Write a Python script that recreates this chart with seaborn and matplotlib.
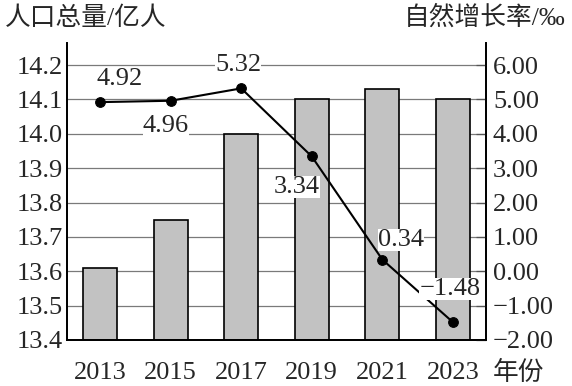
import numpy as np
import pandas as pd
import matplotlib.pyplot as plt
import seaborn as sns

years = ["2013", "2015", "2017", "2019", "2021", "2023"]
population = [13.61, 13.75, 14.00, 14.10, 14.13, 14.10]
growth_rate = [4.92, 4.96, 5.32, 3.34, 0.34, -1.48]
rate_labels = ["4.92", "4.96", "5.32", "3.34", "0.34", "\u22121.48"]
# 标签相对数据点的偏移 (像素)
label_offsets = [(19, 23), (-5, -25), (-3, 23), (-15, -31), (19, 20), (-3, 33)]

sns.set_style("white")
plt.rcParams['font.family'] = ['Liberation Serif', 'Noto Sans CJK SC', 'DejaVu Sans']
plt.rcParams['axes.unicode_minus'] = True

df = pd.DataFrame({"year": years, "pop": population, "rate": growth_rate})

fig = plt.figure(figsize=(5.72, 3.86), dpi=100)
ax = fig.add_axes([67 / 572, 1 - 340 / 386, (486 - 67) / 572, (340 - 43) / 386])

# 网格线
ax.set_axisbelow(True)
ax.yaxis.grid(True, color="#7a7a7a", lw=0.9)

sns.barplot(data=df, x="year", y="pop", ax=ax, color="#c2c2c2", width=0.48,
            edgecolor="black", linewidth=1.2, saturation=1)
for p in ax.patches:
    p.set_facecolor("#c2c2c2")
    p.set_y(13.4)
    p.set_height(p.get_height() - 13.4)

ax.set_ylim(13.4, 14.264)
ax.set_yticks(np.arange(13.4, 14.21, 0.1))
ax.set_yticklabels([f"{v:.1f}" for v in np.arange(13.4, 14.21, 0.1)])
ax.set_xlim(-0.47, 5.47)
ax.set_xlabel("")
ax.set_ylabel("")
ax.tick_params(axis="both", length=0, labelsize=19, pad=3)
ax.tick_params(axis="x", pad=16)

ax2 = ax.twinx()
sns.lineplot(x=np.arange(len(years)), y=growth_rate, ax=ax2, color="black",
             lw=1.5, marker="o", markersize=7, markeredgecolor="black")
ax2.set_ylim(-2.0, 6.0 + 0.064 / 0.1)
ax2.set_yticks(np.arange(-2, 6.1, 1))
ax2.set_yticklabels([f"{v:.2f}".replace("-", "\u2212") for v in np.arange(-2, 6.1, 1)])
ax2.tick_params(axis="y", direction="in", length=7, width=0.9, color="#555555",
                labelsize=19, pad=5)
ax2.set_xlim(-0.47, 5.47)

for i, (lab, off) in enumerate(zip(rate_labels, label_offsets)):
    ax2.annotate(lab, (i, growth_rate[i]), xytext=off, textcoords="offset pixels",
                 ha="center", va="center", fontsize=19,
                 bbox=dict(boxstyle="square,pad=0.0", fc="white", ec="none"))

for a in (ax, ax2):
    for s in a.spines.values():
        s.set_color("black")
        s.set_linewidth(1.3)
    a.spines["top"].set_visible(False)

fig.text(5 / 572, 1 - 18 / 386, "人口总量/亿人", fontsize=18.5, ha="left", va="center")
fig.text(566 / 572, 1 - 18 / 386, "自然增长率/‰", fontsize=18.5, ha="right", va="center")
ax.text(1.017, -0.07, "年份", transform=ax.transAxes, fontsize=18.5,
        ha="left", va="top")

fig.savefig("out.png", dpi=100)
